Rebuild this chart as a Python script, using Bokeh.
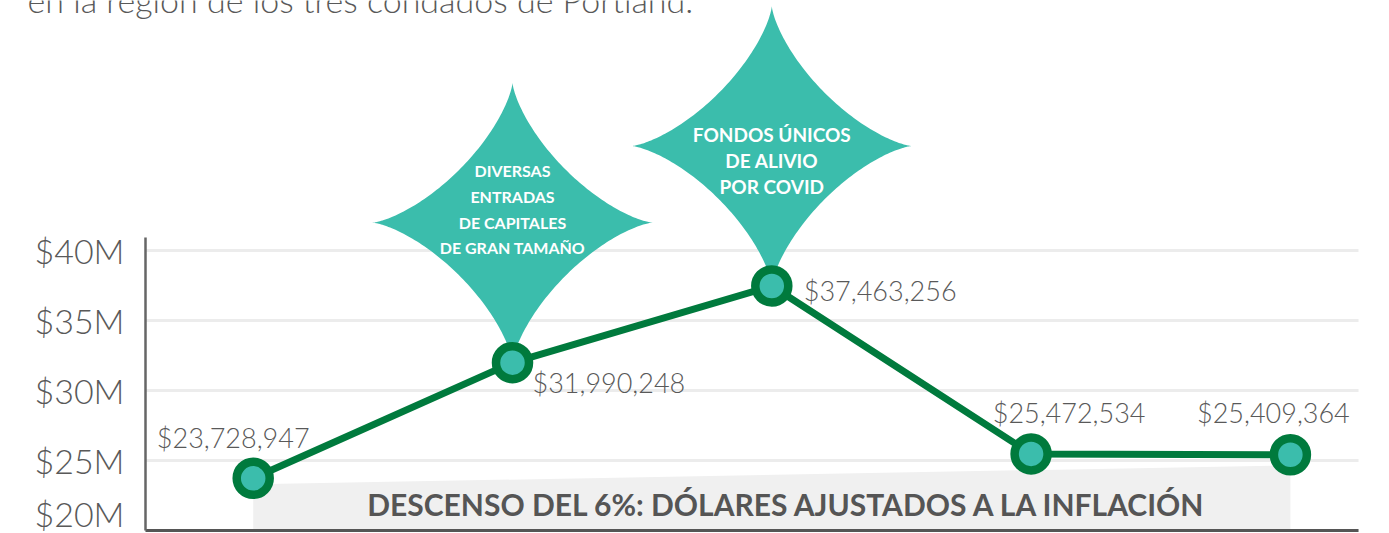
import numpy as np
from bokeh.plotting import figure
from bokeh.models import FixedTicker, Label, ColumnDataSource, Range1d, LinearAxis, Grid
from bokeh.core.properties import value
from bokeh.embed import file_html
from bokeh.resources import INLINE

# ---------------- data ----------------
point_idx = [0, 1, 2, 3, 4]
values = [23728947, 31990248, 37463256, 25472534, 25409364]
value_labels = ["$23,728,947", "$31,990,248", "$37,463,256", "$25,472,534", "$25,409,364"]
y_ticks = [20000000, 25000000, 30000000, 35000000, 40000000]
y_tick_labels = ["$20M", "$25M", "$30M", "$35M", "$40M"]
band_top = [23300000, 24650000]          # top edge of grey band at first / last point
callout_points = [1, 2]
callout_lines = [
    ["DIVERSAS", "ENTRADAS", "DE CAPITALES", "DE GRAN TAMAÑO"],
    ["FONDOS ÚNICOS", "DE ALIVIO", "POR COVID"],
]
title_text = "en la región de los tres condados de Portland."
band_text = "DESCENSO DEL 6%: DÓLARES AJUSTADOS A LA INFLACIÓN"

# ---------------- styles ----------------
GREEN = "#007a3d"
TEAL = "#3bbdac"
GREY_TXT = "#595959"
FONT = "Lato"
LIGHT = "'Lato Light', Lato"
W, H = 1389, 533
PX_X = 259.3           # px per category step
PX_Y = 14.0            # px per $1M
X0_PX = 252.7          # pixel position of first point
AXIS_PX = 145          # pixel position of y axis
RIGHT_PX = 1358
BOTTOM_PX = 530

x_start = -X0_PX / PX_X
x_end = (W - X0_PX) / PX_X
x_axis_pos = (AXIS_PX - X0_PX) / PX_X
x_right = (RIGHT_PX - X0_PX) / PX_X
y_start = 20e6 - (H - BOTTOM_PX) / PX_Y * 1e6
y_end = 20e6 + BOTTOM_PX / PX_Y * 1e6

label_align = ["center", "left", "left", "center", "center"]
label_dx = [-20, 20, 32, 38, -17]
label_dy = [-41, 20, 4, -41, -42]

star_half_px = 140
star_exp = 2.8
callout_font = ["16px", "19px"]
callout_first_dy = [-192, -152]
callout_step = [25.7, 26]

p = figure(width=W, height=H, output_backend="svg", toolbar_location=None,
           x_range=Range1d(x_start, x_end), y_range=Range1d(y_start, y_end),
           x_axis_location=None, y_axis_location=None, min_border=0,
           outline_line_color=None, background_fill_color="white", border_fill_color="white")

# drop any default grids
p.center = [r for r in p.center if not isinstance(r, Grid)]

# grid
grid = Grid(dimension=1, ticker=FixedTicker(ticks=y_ticks), grid_line_color="#ececec", grid_line_width=3)
try:
    grid.cross_bounds = (x_axis_pos, x_right)
except Exception:
    pass
p.add_layout(grid)

# y axis
yax = LinearAxis(fixed_location=x_axis_pos, ticker=FixedTicker(ticks=y_ticks),
                 major_label_overrides={t: l for t, l in zip(y_ticks, y_tick_labels)},
                 bounds=(20e6, 40.93e6), axis_line_color="#666666", axis_line_width=2.5,
                 major_tick_line_color=None, minor_tick_line_color=None,
                 major_label_standoff=15, major_label_text_font=LIGHT,
                 major_label_text_font_size="34px", major_label_text_color=GREY_TXT)
p.add_layout(yax, "left")

# x axis (line only)
xax = LinearAxis(fixed_location=20e6, bounds=(x_axis_pos, x_right), ticker=FixedTicker(ticks=[]),
                 axis_line_color="#555555", axis_line_width=3,
                 major_tick_line_color=None, minor_tick_line_color=None,
                 major_label_text_font_size="0px")
p.add_layout(xax, "below")

# grey band
p.patch(x=[point_idx[0], point_idx[-1], point_idx[-1], point_idx[0]],
        y=[band_top[0], band_top[1], 20e6, 20e6], fill_color="#f0f0f0", line_color=None)

# callout stars
t = np.linspace(0, 2 * np.pi, 400)
cx_unit = np.sign(np.cos(t)) * np.abs(np.cos(t)) ** star_exp
cy_unit = np.sign(np.sin(t)) * np.abs(np.sin(t)) ** star_exp
sx = star_half_px / PX_X
sy = star_half_px / PX_Y * 1e6
for k, ci in enumerate(callout_points):
    x0 = point_idx[ci]
    y0 = values[ci] + sy
    p.patch(x=x0 + sx * cx_unit, y=y0 + sy * cy_unit, fill_color=TEAL, line_color=None)

# line + points
src = ColumnDataSource(dict(x=point_idx, y=values, lab=value_labels,
                            align=label_align, dx=label_dx, dy=label_dy))
p.line("x", "y", source=src, line_color=GREEN, line_width=7)
p.scatter("x", "y", source=src, size=33, fill_color=TEAL, line_color=GREEN, line_width=8.5)

p.text("x", "y", text="lab", source=src, text_align="align", x_offset="dx", y_offset="dy",
       text_baseline="middle", text_font=value(LIGHT), text_font_size="27px",
       text_color=GREY_TXT)

# callout texts
for k, ci in enumerate(callout_points):
    lines = callout_lines[k]
    n = len(lines)
    p.text(x=[point_idx[ci]] * n, y=[values[ci]] * n, text=lines,
           y_offset=[callout_first_dy[k] + i * callout_step[k] for i in range(n)],
           text_align="center", text_baseline="middle", text_font=value(FONT),
           text_font_style="bold", text_font_size=callout_font[k], text_color="white")

# band text
p.text(x=[(point_idx[0] + point_idx[-1]) / 2], y=[20e6], text=[band_text], x_offset=16, y_offset=-27,
       text_align="center", text_baseline="middle", text_font=value(FONT),
       text_font_style="bold", text_font_size="30px", text_color="#555555")

# title (cut at top)
p.add_layout(Label(x=27, y=H + 1, x_units="screen", y_units="screen", text=title_text,
                   text_font=LIGHT, text_font_size="34px", text_color=GREY_TXT,
                   text_baseline="alphabetic"))

open("out.html", "w").write(file_html(p, INLINE))
